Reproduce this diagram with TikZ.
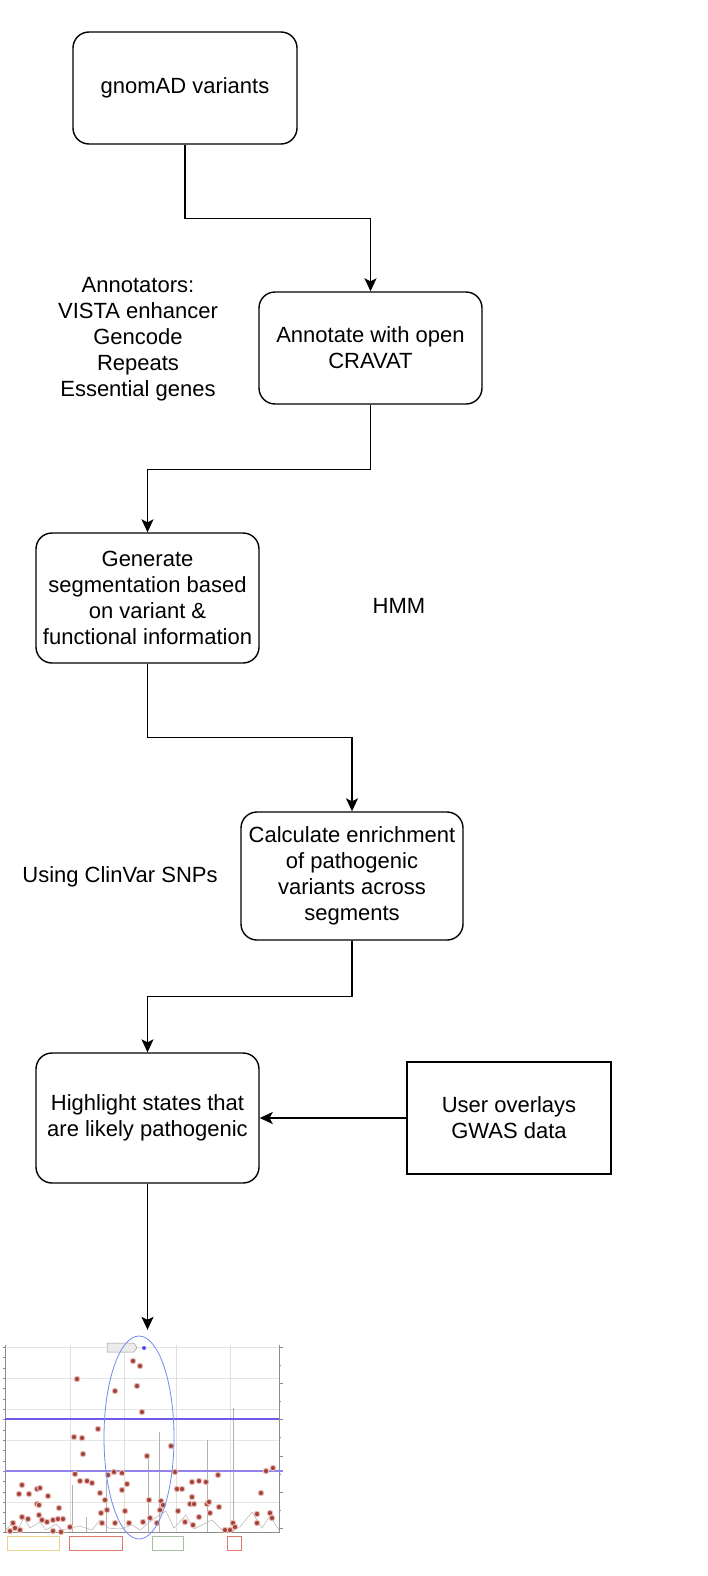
\documentclass[tikz,border=0pt]{standalone}
\usepackage{fontspec}
\setmainfont{Liberation Sans}
\usetikzlibrary{arrows.meta,calc}
\definecolor{dotred}{RGB}{165,65,55}
\definecolor{dotring}{RGB}{230,190,185}
\definecolor{hline}{RGB}{110,90,230}
\definecolor{ringblue}{RGB}{110,140,235}
\definecolor{boxyel}{RGB}{235,210,140}
\definecolor{boxred}{RGB}{225,120,110}
\definecolor{boxgrn}{RGB}{170,190,160}

\begin{document}
\begin{tikzpicture}[x=1pt, y=-1pt,
		every node/.style={font=\fontsize{22}{26}\selectfont},
		stepbox/.style={draw, line width=1.4pt, rounded corners=16pt, align=center, inner sep=0pt},
		flatbox/.style={draw, line width=1.4pt, align=center, inner sep=0pt},
		flow/.style={draw, line width=1.4pt, -{Stealth[length=13pt, width=12pt, inset=3pt]}},
		dot/.style={circle, inner sep=0pt, minimum size=5.5pt, fill=dotred, draw=dotring, line width=1pt}]
		%%%%% START %%%%%
		
		\useasboundingbox (0, 0) rectangle (708, 1576);
		
		\node[stepbox, minimum width=224, minimum height=112] (gnomad) at (185, 88) {gnomAD variants};
		\node[stepbox, minimum width=223, minimum height=112] (cravat) at (370.5, 348) {Annotate with open\\CRAVAT};
		\node[stepbox, minimum width=223, minimum height=130] (segment) at (147.5, 598) {Generate\\segmentation based\\on variant \&\\functional information};
		\node[stepbox, minimum width=222, minimum height=128] (enrich) at (352, 876) {Calculate enrichment\\of pathogenic\\variants across\\segments};
		\node[stepbox, minimum width=223, minimum height=130] (highlight) at (147.5, 1118) {Highlight states that\\are likely pathogenic};
		\node[flatbox, minimum width=204, minimum height=112] (gwas) at (509, 1118) {User overlays\\GWAS data};
		
		\node[align=center] (annot) at (138, 339) {Annotators:\\VISTA enhancer\\Gencode\\Repeats\\Essential genes};
		\node (hmm) at (399, 606) {HMM};
		\node (clinvar) at (120, 877) {Using ClinVar SNPs};
		
		\node[minimum width=300, minimum height=222, inner sep=0pt] (plot) at (150, 1441) {};
		
		\draw[flow] (gnomad.south) -- ++(0, 74) -| (cravat.north);
		\draw[flow] (cravat.south) -- ++(0, 65) -| (segment.north);
		\draw[flow] (segment.south) -- ++(0, 74) -| (enrich.north);
		\draw[flow] (enrich.south) -- ++(0, 56) -| (highlight.north);
		\draw[flow] (gwas.west) -- (highlight.east);
		\draw[flow] (highlight.south) -- (highlight.south |- plot.north);
		
		% the plot
		\foreach \y in {1347, 1378, 1409, 1440, 1471, 1502}
			\draw[line width=0.4pt, color=black!10] (5, \y) -- (279, \y);
		\foreach \x in {70, 124, 176, 230}
			\draw[line width=0.4pt, color=black!12] (\x, 1345) -- (\x, 1532);
		\draw[line width=0.6pt, color=black!45] (5, 1345) -- (5, 1532) -- (279, 1532) -- (279, 1345);
		\foreach \y in {1347, 1357.3, 1367.7, 1378, 1388.3, 1398.7, 1409, 1419.3, 1429.7, 1440, 1450.3, 1460.7, 1471, 1481.3, 1491.7, 1502, 1512.3, 1522.7, 1532}
			\draw[line width=0.4pt, color=black!45] (2.5, \y) -- (5, \y);
		\foreach \y in {1347, 1383, 1419, 1456, 1492, 1528}
			\draw[line width=0.4pt, color=black!45] (279, \y) -- (283, \y);
		\foreach \y in {1365, 1401, 1437, 1474, 1510}
			\draw[line width=0.4pt, color=black!45] (279, \y) -- (281, \y);
		
		\foreach \x/\t in {72/1485, 86/1517, 106/1480, 148/1455, 159/1432, 207/1440, 233/1408}
			\draw[line width=0.6pt, color=black!30] (\x, 1532) -- (\x, \t);
		\draw[line width=0.5pt, color=black!30] (5, 1530) -- (12, 1524) -- (18, 1529) -- (24, 1518) -- (30, 1528) -- (40, 1522) -- (46, 1530) -- (56, 1524) -- (62, 1530) -- (80, 1526) -- (92, 1530) -- (100, 1520) -- (108, 1528) -- (120, 1529) -- (132, 1525) -- (140, 1530) -- (155, 1518) -- (166, 1511) -- (174, 1528) -- (186, 1515) -- (194, 1529) -- (212, 1520) -- (222, 1530) -- (240, 1527) -- (252, 1512) -- (262, 1528) -- (270, 1516) -- (279, 1530);
		
		\draw[line width=1.3pt, color=hline] (5, 1419) -- (279, 1419);
		\draw[line width=1.5pt, color=hline!75] (5, 1471) -- (283, 1471);
		
		\foreach \x/\y in {77/1379, 115/1391, 133/1361, 140/1366, 137/1386, 142/1412, 98/1429, 74/1437, 82/1438, 83/1454, 171/1446, 147/1456, 108/1475, 114/1472, 122/1473, 75/1474, 80/1481, 87/1481, 92/1483, 127/1484, 122/1490, 100/1493, 175/1472, 218/1475, 192/1482, 199/1481, 206/1482, 22/1485, 37/1489, 40/1488, 19/1494, 29/1494, 48/1496, 177/1489, 182/1489, 192/1497, 261/1493, 266/1471, 273/1468, 37/1504, 39/1505, 59/1508, 105/1500, 149/1500, 161/1501, 163/1505, 190/1504, 194/1504, 207/1504, 209/1502, 219/1507, 107/1510, 101/1513, 125/1511, 160/1510, 178/1511, 199/1517, 210/1513, 22/1517, 28/1519, 39/1515, 42/1520, 47/1522, 53/1520, 58/1519, 63/1519, 70/1527, 13/1523, 15/1528, 20/1530, 102/1523, 115/1523, 129/1523, 143/1522, 150/1518, 157/1523, 185/1522, 193/1525, 233/1523, 235/1527, 230/1530, 257/1514, 272/1518, 270/1513, 257/1523, 53/1531, 61/1532, 10/1531, 225/1530}
			\node[dot] (d) at (\x, \y) {};
		
		\draw[line width=0.5pt, color=black!40, fill=black!8] (107, 1343) -- (134, 1343) -- (137, 1347.5) -- (134, 1352) -- (107, 1352) -- cycle;
		\node[circle, inner sep=0pt, minimum size=4pt, fill=blue!70] (topdot) at (144, 1348) {};
		
		\draw[line width=0.8pt, color=ringblue] (139, 1437.5) ellipse (35 and 101.5);
		
		\draw[line width=0.6pt, color=boxyel] (7, 1536) rectangle (59, 1550);
		\draw[line width=0.6pt, color=boxred] (69, 1536) rectangle (122, 1550);
		\draw[line width=0.6pt, color=boxgrn] (152, 1536) rectangle (183, 1550);
		\draw[line width=0.6pt, color=boxred] (227, 1536) rectangle (241, 1550);
		
		%%%%% END %%%%%
\end{tikzpicture}
\end{document}
